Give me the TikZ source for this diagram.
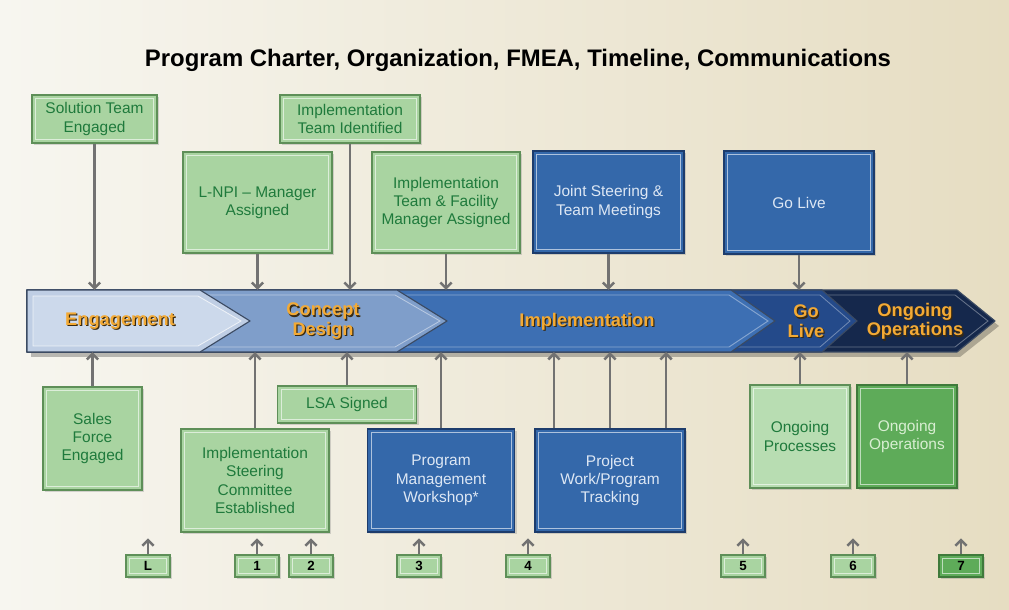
\documentclass[tikz,border=0pt]{standalone}
\usepackage{fontspec}
\setmainfont{Liberation Sans}
\usepackage{xcolor}
\usepackage{tikz}
\usetikzlibrary{arrows.meta, positioning, calc, shadows}

\definecolor{boxgreen}{HTML}{A9D4A1}
\definecolor{boxgreenline}{HTML}{5E8F58}
\definecolor{textgreen}{HTML}{1F7A3C}
\definecolor{procgreen}{HTML}{B8DDB2}
\definecolor{opsgreen}{HTML}{5EAB59}
\definecolor{opsline}{HTML}{3F7A3B}
\definecolor{opstext}{HTML}{D8EED2}
\definecolor{boxblue}{HTML}{3468AA}
\definecolor{boxblueline}{HTML}{1D3C6C}
\definecolor{textblue}{HTML}{DDE7F4}
\definecolor{phasegold}{HTML}{F3AA35}
\definecolor{phaseshadow}{HTML}{3A2A10}
\definecolor{conngray}{HTML}{727272}
\definecolor{bgleft}{HTML}{F7F6F0}
\definecolor{bgright}{HTML}{E6DDC2}
\definecolor{segline}{HTML}{3B4A62}
\definecolor{segA}{HTML}{BFCEE4}
\definecolor{segAin}{HTML}{CCD9EB}
\definecolor{segB}{HTML}{7F9ECA}
\definecolor{segC}{HTML}{3D6FB3}
\definecolor{segD}{HTML}{244A8A}
\definecolor{segE}{HTML}{15284C}

% gold phase text with a dark shadow behind it
\newcommand{\phaseline}[1]{\rlap{\kern0.9pt\raisebox{-0.9pt}{\color{phaseshadow}#1}}#1}

\begin{document}
\begin{tikzpicture}[
   x=0.025cm, y=-0.025cm,
   box/.style = {draw=boxgreenline, line width=1pt, fill=boxgreen, text=textgreen, align=center,
      inner sep=2pt, font=\fontsize{11}{13}\selectfont,
      drop shadow={shadow xshift=1.5pt, shadow yshift=-1.5pt, opacity=0.3},
      path picture={\draw[white, opacity=0.6, line width=0.6pt]
         ([shift={(2.5pt,-2.5pt)}]path picture bounding box.north west) rectangle
         ([shift={(-2.5pt,2.5pt)}]path picture bounding box.south east);}},
   bluebox/.style = {box, draw=boxblueline, fill=boxblue, text=textblue},
   numbox/.style = {box, minimum width=1.1cm, minimum height=0.55cm, text=black,
      font=\bfseries\fontsize{9.5}{10}\selectfont},
   phase/.style = {text=phasegold, align=center, font=\bfseries\fontsize{13}{14}\selectfont},
   seg/.style = {draw=segline, line width=0.8pt, line join=round},
   line/.style = {draw=conngray, line width=1.8pt, -{Straight Barb[length=4pt,width=8pt]}}
   ]
  % Background
  \fill[left color=bgleft, right color=bgright] (0,0) rectangle (1009,610);
  \useasboundingbox (0,0) rectangle (1009,610);

  % Title
  \node[font=\bfseries\fontsize{17}{20}\selectfont] (title) at (518,60)
   {Program Charter, Organization, FMEA, Timeline, Communications};

  % Timeline band
  \node[minimum width=24.325cm, minimum height=1.55cm, inner sep=0pt, outer sep=0pt] (timeline) at (513.5,321) {};
  \fill[black, opacity=0.25] (31,295) -- (960,295) -- (999,326) -- (960,357) -- (31,357) -- cycle;
  \filldraw[seg, fill=segE] (27,290) -- (957,290) -- (995,321) -- (957,352) -- (27,352) -- cycle;
  \draw[white, opacity=0.35, line width=0.6pt] (27,295) -- (955,295) -- (988,321) -- (955,347) -- (27,347);
  \filldraw[seg, fill=segD] (27,290) -- (822,290) -- (857,321) -- (822,352) -- (27,352) -- cycle;
  \draw[white, opacity=0.35, line width=0.6pt] (27,295) -- (820,295) -- (850,321) -- (820,347) -- (27,347);
  \filldraw[seg, fill=segC] (27,290) -- (731,290) -- (775,321) -- (731,352) -- (27,352) -- cycle;
  \draw[white, opacity=0.4, line width=0.6pt] (27,295) -- (729,295) -- (768,321) -- (729,347) -- (27,347);
  \filldraw[seg, fill=segB] (27,290) -- (397,290) -- (447,321) -- (397,352) -- (27,352) -- cycle;
  \draw[white, opacity=0.45, line width=0.6pt] (27,295) -- (395,295) -- (440,321) -- (395,347) -- (27,347);
  \filldraw[seg, fill=segA] (27,290) -- (200,290) -- (250,321) -- (200,352) -- (27,352) -- cycle;
  \filldraw[draw=white, draw opacity=0.7, fill=segAin, line width=0.6pt] (33,296) -- (198,296) -- (241,321) -- (198,346) -- (33,346) -- cycle;

  % Phase labels
  \node[phase] (engagement) at (120,322) {\phaseline{Engagement}};
  \node[phase] (concept) at (323,322) {\phaseline{Concept}\\\phaseline{Design}};
  \node[phase] (implementation) at (587,322) {\phaseline{Implementation}};
  \node[phase] (golivephase) at (806,322) {\phaseline{Go}\\\phaseline{Live}};
  \node[phase] (ongoing) at (915,322) {\phaseline{Ongoing}\\\phaseline{Operations}};

  % Boxes above the timeline
  \node[box, minimum width=3.125cm, minimum height=1.2cm] (solteam) at (94.5,119)
   {Solution Team\\Engaged};
  \node[box, minimum width=3.5cm, minimum height=1.2cm] (implteam) at (350,119)
   {Implementation\\Team Identified};
  \node[box, minimum width=3.725cm, minimum height=2.525cm] (lnpi) at (257.5,202.5)
   {L-NPI – Manager\\Assigned};
  \node[box, minimum width=3.7cm, minimum height=2.525cm] (facility) at (446,202.5)
   {Implementation\\Team \& Facility\\Manager Assigned};
  \node[bluebox, minimum width=3.775cm, minimum height=2.55cm] (joint) at (608.5,202)
   {Joint Steering \&\\Team Meetings};
  \node[bluebox, minimum width=3.75cm, minimum height=2.575cm] (golive) at (799,202.5)
   {Go Live};

  % Boxes below the timeline
  \node[box, minimum width=2.475cm, minimum height=2.575cm] (sales) at (92.5,438.5)
   {Sales\\Force\\Engaged};
  \node[box, minimum width=3.7cm, minimum height=2.575cm] (steering) at (255,480.5)
   {Implementation\\Steering\\Committee\\Established};
  \node[box, minimum width=3.475cm, minimum height=0.925cm] (lsa) at (347,404.5)
   {LSA Signed};
  \node[bluebox, minimum width=3.675cm, minimum height=2.575cm] (workshop) at (441,480.5)
   {Program\\Management\\Workshop*};
  \node[bluebox, minimum width=3.75cm, minimum height=2.575cm] (tracking) at (610,480.5)
   {Project\\Work/Program\\Tracking};
  \node[box, fill=procgreen, minimum width=2.5cm, minimum height=2.575cm] (ongproc) at (800,436.5)
   {Ongoing\\Processes};
  \node[box, draw=opsline, fill=opsgreen, text=opstext, minimum width=2.5cm, minimum height=2.575cm] (ongops) at (907,436.5)
   {Ongoing\\Operations};

  % Numbered markers
  \node[numbox] (nL) at (148,566) {L};
  \node[numbox] (n1) at (257,566) {1};
  \node[numbox] (n2) at (311,566) {2};
  \node[numbox] (n3) at (419,566) {3};
  \node[numbox] (n4) at (528,566) {4};
  \node[numbox] (n5) at (743,566) {5};
  \node[numbox] (n6) at (853,566) {6};
  \node[numbox, draw=opsline, fill=opsgreen] (n7) at (961,566) {7};

  % Arrows into the timeline
  \draw[line] (solteam) -- (solteam |- timeline.north);
  \draw[line] (implteam) -- (implteam |- timeline.north);
  \draw[line] (lnpi) -- (lnpi |- timeline.north);
  \draw[line] (facility) -- (facility |- timeline.north);
  \draw[line] (joint) -- (joint |- timeline.north);
  \draw[line] (golive) -- (golive |- timeline.north);
  \draw[line] (sales) -- (sales |- timeline.south);
  \draw[line] (steering) -- (steering |- timeline.south);
  \draw[line] (lsa) -- (lsa |- timeline.south);
  \draw[line] (workshop) -- (workshop |- timeline.south);
  \draw[line] ([xshift=-1.4cm]tracking.north) -- ([xshift=-1.4cm]tracking.north |- timeline.south);
  \draw[line] (tracking) -- (tracking |- timeline.south);
  \draw[line] ([xshift=1.4cm]tracking.north) -- ([xshift=1.4cm]tracking.north |- timeline.south);
  \draw[line] (ongproc) -- (ongproc |- timeline.south);
  \draw[line] (ongops) -- (ongops |- timeline.south);

  % Marker arrows
  \draw[line] (nL.north) -- ++(0,-16);
  \draw[line] (n1.north) -- ++(0,-16);
  \draw[line] (n2.north) -- ++(0,-16);
  \draw[line] (n3.north) -- ++(0,-16);
  \draw[line] (n4.north) -- ++(0,-16);
  \draw[line] (n5.north) -- ++(0,-16);
  \draw[line] (n6.north) -- ++(0,-16);
  \draw[line] (n7.north) -- ++(0,-16);
\end{tikzpicture}
\end{document}
